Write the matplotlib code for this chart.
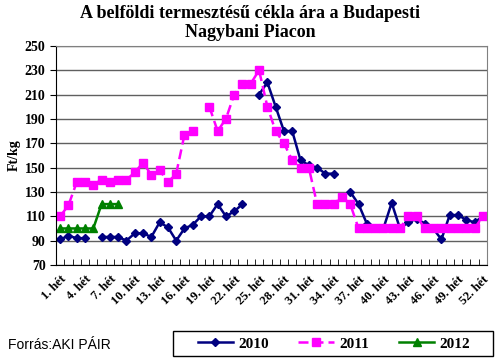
import numpy as np
import matplotlib
matplotlib.use("Agg")
import matplotlib.pyplot as plt
from matplotlib.patches import Rectangle

nan = np.nan

# weekly prices, Ft/kg (weeks 1..52)
weeks = np.arange(1, 53)
labels = [f"{w}. hét" for w in weeks]

price_2010 = [91, 94, 92, 92, nan, 93, 93, 93, 90, 96,
              96, 93, 105, 101, 90, 100, 103, 110, 110, 120,
              110, 114, 120, nan, 210, 220, 200, 180, 180, 156,
              152, 150, 145, 145, nan, 130, 120, 104, 100, 100,
              121, 100, 105, 108, 104, 100, 91, 111, 111, 107,
              105, 110]
price_2011 = [110, 119, 138, 138, 136, 140, 138, 140, 140, 146,
              154, 144, 148, 138, 145, 177, 180, nan, 200, 180,
              190, 210, 219, 219, 230, 200, 180, 170, 156, 150,
              150, 120, 120, 120, 126, 120, 100, 100, 100, 100,
              100, 100, 110, 110, 100, 100, 100, 100, 100, 100,
              100, 110]
price_2012 = [100, 100, 100, 100, 100, 120, 120, 120]

serif = "Liberation Serif"

fig = plt.figure(figsize=(5, 3.61), dpi=100)
ax = fig.add_axes([0.112, 0.266, 0.862, 0.607])

ax.plot(weeks, price_2010, color="#000080", lw=1.8, marker="D", ms=4.5,
        label="2010")
ax.plot(weeks, price_2011, color="#FF00FF", lw=1.8, marker="s", ms=6,
        linestyle=(0, (4, 2)), label="2011")
ax.plot(weeks[:len(price_2012)], price_2012, color="#008000", lw=1.8,
        marker="^", ms=6, label="2012")

ax.set_xlim(0.5, 52.5)
ax.set_ylim(70, 250)
ax.set_yticks(np.arange(70, 251, 20))
ax.yaxis.grid(True, color="#606060", lw=1)
ax.set_axisbelow(True)

ax.set_xticks(weeks[::3])
ax.set_xticklabels(labels[::3], rotation=45, ha="right",
                   rotation_mode="anchor", fontfamily=serif,
                   fontweight="bold", fontsize=9)
ax.set_xticks(np.arange(0.5, 53, 1), minor=True)
ax.tick_params(axis="x", which="major", length=0, pad=6)
ax.tick_params(axis="x", which="minor", length=4, direction="in")
ax.tick_params(axis="y", length=4, direction="out")
for lab in ax.get_yticklabels():
    lab.set_fontfamily(serif)
    lab.set_fontweight("bold")
    lab.set_fontsize(10)

for s in ["left", "bottom"]:
    ax.spines[s].set_color("black")
for s in ["top", "right"]:
    ax.spines[s].set_color("#808080")

ax.set_ylabel("Ft/kg", fontfamily=serif, fontweight="bold", fontsize=10,
              labelpad=3)
fig.suptitle("A belföldi termesztésű cékla ára a Budapesti\nNagybani Piacon",
             fontfamily=serif, fontweight="bold", fontsize=13,
             y=0.985, linespacing=1.1)

# legend box drawn separately (Excel-style wide padding)
fig.patches.append(Rectangle((0.346, 0.014), 0.64, 0.069,
                             transform=fig.transFigure, fill=False,
                             edgecolor="black", lw=1))
leg = fig.legend(loc="center", bbox_to_anchor=(0.668, 0.048), ncol=3,
                 frameon=False,
                 prop={"family": serif, "weight": "bold", "size": 11},
                 handlelength=2.35, handletextpad=0.35, columnspacing=1.9,
                 borderpad=0.2)

fig.text(0.015, 0.045, "Forrás:AKI PÁIR", fontfamily="Liberation Sans",
         fontsize=10, va="center", ha="left")

fig.savefig("out.png", dpi=100)
